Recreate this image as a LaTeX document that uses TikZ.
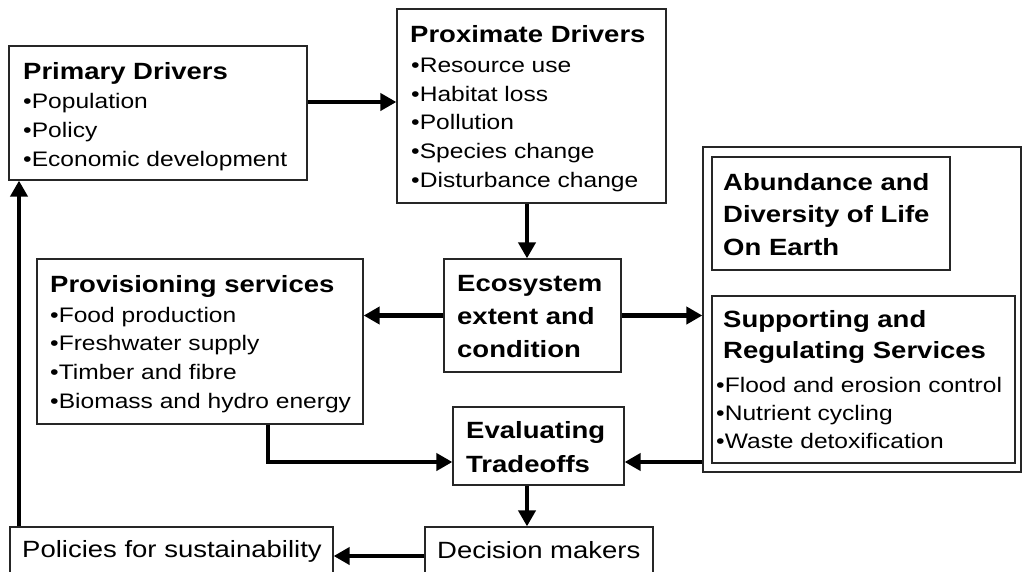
\documentclass[tikz,border=0pt]{standalone}
\usepackage{fontspec}
\setmainfont{Liberation Sans}[FakeStretch=1.17]
\usetikzlibrary{arrows.meta}
\begin{document}
\begin{tikzpicture}[x=1pt,y=-1pt,
  box/.style={draw=black!85, line width=1.3pt, inner sep=0pt},
  flow/.style={line width=4.5pt, -{Triangle[length=16pt,width=17pt]}},
  head/.style={anchor=base west, inner sep=0pt, font=\fontsize{23.5}{28}\selectfont\bfseries},
  item/.style={anchor=base west, inner sep=0pt, font=\fontsize{21}{25}\selectfont},
  plain/.style={anchor=base west, inner sep=0pt, font=\fontsize{23.5}{28}\selectfont}]
\useasboundingbox (0,0) rectangle (1024,571);
\clip (0,0) rectangle (1024,571);

% boxes
\node[box, minimum width=298pt, minimum height=134pt] (primary) at (158,113) {};
\node[box, minimum width=269pt, minimum height=194pt] (proximate) at (531.5,106) {};
\node[box, minimum width=326pt, minimum height=165pt] (provisioning) at (200,341.5) {};
\node[box, minimum width=177pt, minimum height=113pt] (ecosystem) at (532.5,315.5) {};
\node[box, minimum width=318pt, minimum height=325pt] (outer) at (862,309.5) {};
\node[box, minimum width=238pt, minimum height=113pt] (abundance) at (831,213.5) {};
\node[box, minimum width=303pt, minimum height=167pt] (supporting) at (863.5,379.5) {};
\node[box, minimum width=171pt, minimum height=78pt] (evaluating) at (538.5,446) {};
\node[box, minimum width=228pt, minimum height=73pt] (decision) at (539,563.5) {};
\node[box, minimum width=323pt, minimum height=73pt] (policies) at (171.5,563.5) {};

% texts
\node[head] (t-pd) at (23,79) {Primary Drivers};
\node[item] (t-pd1) at (23,108) {•Population};
\node[item] (t-pd2) at (23,137) {•Policy};
\node[item] (t-pd3) at (23,166) {•Economic development};

\node[head] (t-xd) at (410,42) {Proximate Drivers};
\node[item] (t-xd1) at (411,72) {•Resource use};
\node[item] (t-xd2) at (411,101) {•Habitat loss};
\node[item] (t-xd3) at (411,129) {•Pollution};
\node[item] (t-xd4) at (411,158) {•Species change};
\node[item] (t-xd5) at (411,187) {•Disturbance change};

\node[head] (t-pv) at (50,292) {Provisioning services};
\node[item] (t-pv1) at (50,322) {•Food production};
\node[item] (t-pv2) at (50,350) {•Freshwater supply};
\node[item] (t-pv3) at (50,379) {•Timber and fibre};
\node[item] (t-pv4) at (50,408) {•Biomass and hydro energy};

\node[head] (t-ec1) at (457,291) {Ecosystem};
\node[head] (t-ec2) at (457,324) {extent and};
\node[head] (t-ec3) at (457,357) {condition};

\node[head] (t-ab1) at (723,190) {Abundance and};
\node[head] (t-ab2) at (723,222) {Diversity of Life};
\node[head] (t-ab3) at (723,255) {On Earth};

\node[head] (t-sr1) at (723,327) {Supporting and};
\node[head] (t-sr2) at (723,358) {Regulating Services};
\node[item] (t-sr3) at (716,392) {•Flood and erosion control};
\node[item] (t-sr4) at (716,420) {•Nutrient cycling};
\node[item] (t-sr5) at (716,448) {•Waste detoxification};

\node[head] (t-ev1) at (466,438) {Evaluating};
\node[head] (t-ev2) at (466,472) {Tradeoffs};

\node[plain] (t-dm) at (437,558) {Decision makers};
\node[plain] (t-ps) at (22,557) {Policies for sustainability};

% connectors
\draw[flow] ([yshift=11pt]primary.east) -- ([yshift=11pt]primary.east -| proximate.west);
\draw[flow] ([xshift=-4.5pt]proximate.south) -- ([xshift=-4.5pt]proximate.south |- ecosystem.north);
\draw[flow] (ecosystem.west) -- (ecosystem.west -| provisioning.east);
\draw[flow] (ecosystem.east) -- (ecosystem.east -| outer.west);
\coordinate (evalL) at ([yshift=-16pt]evaluating.west);
\coordinate (evalR) at ([yshift=-16pt]evaluating.east);
\draw[flow] ([xshift=68pt]provisioning.south) |- (evalL);
\draw[flow] (outer.west |- evalR) -- (evalR);
\draw[flow] ([xshift=-11.5pt]evaluating.south) -- ([xshift=-11.5pt]evaluating.south |- decision.north);
\draw[flow] ([yshift=7.5pt]decision.west) -- ([yshift=7.5pt]decision.west -| policies.east);
\draw[flow] ([xshift=-152.5pt]policies.north) -- ([xshift=-152.5pt]policies.north |- primary.south);
\end{tikzpicture}
\end{document}
